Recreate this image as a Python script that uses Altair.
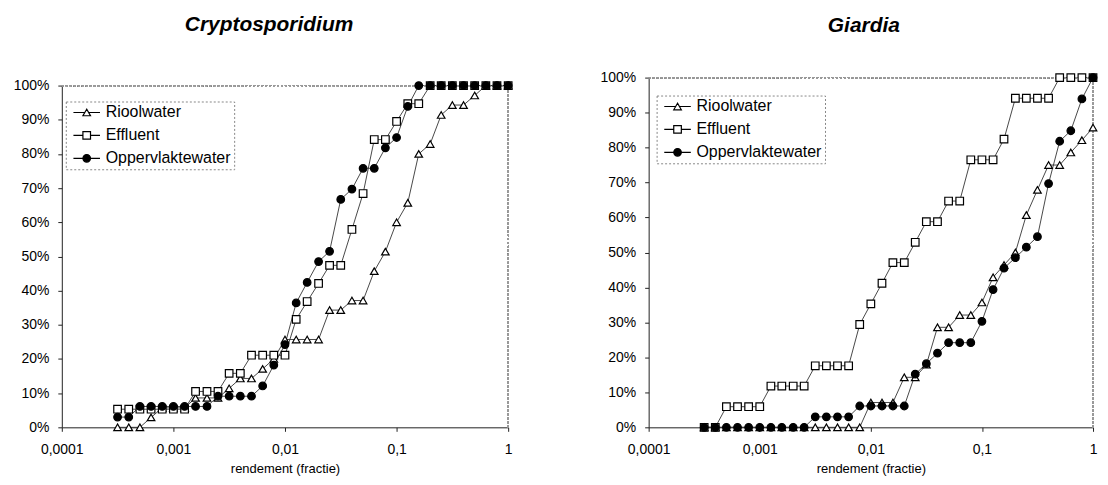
import altair as alt
import pandas as pd

FONT = "Liberation Sans"

# x grid (rendement, fractie) — 0.1 decade steps
RENDEMENT = [0.000316, 0.000398, 0.000501, 0.000631, 0.000794, 0.001, 0.00126, 0.00158,
             0.00200, 0.00251, 0.00316, 0.00398, 0.00501, 0.00631, 0.00794, 0.01, 0.0126,
             0.0158, 0.0200, 0.0251, 0.0316, 0.0398, 0.0501, 0.0631, 0.0794, 0.1, 0.126,
             0.158, 0.200, 0.251, 0.316, 0.398, 0.501, 0.631, 0.794, 1.0]

SERIES = ["Rioolwater", "Effluent", "Oppervlaktewater"]

# Cryptosporidium (cumulative %)
CRYPTO_RIOOL = [0, 0, 0, 2.9, 5.7, 5.7, 5.7, 8.6, 8.6, 8.6, 11.4, 14.3, 14.3, 17.1, 20.0, 25.7,
                25.7, 25.7, 25.7, 34.3, 34.3, 37.1, 37.1, 45.7, 51.4, 60.0, 65.7, 80.0, 82.9,
                91.4, 94.3, 94.3, 97.1, 100, 100, 100]
CRYPTO_EFFLUENT = [5.3, 5.3, 5.3, 5.3, 5.3, 5.3, 5.3, 10.5, 10.5, 10.5, 15.8, 15.8, 21.1, 21.1,
                   21.1, 21.1, 31.6, 36.8, 42.1, 47.4, 47.4, 57.9, 68.4, 84.2, 84.2, 89.5, 94.7,
                   94.7, 100, 100, 100, 100, 100, 100, 100, 100]
CRYPTO_OPPERVLAKTE = [3.0, 3.0, 6.1, 6.1, 6.1, 6.1, 6.1, 6.1, 6.1, 9.1, 9.1, 9.1, 9.1, 12.1, 18.2,
                      24.2, 36.4, 42.4, 48.5, 51.5, 66.7, 69.7, 75.8, 75.8, 81.8, 84.8, 93.9,
                      100, 100, 100, 100, 100, 100, 100, 100, 100]

# Giardia (cumulative %)
GIARDIA_RIOOL = [0, 0, 0, 0, 0, 0, 0, 0, 0, 0, 0, 0, 0, 0, 0, 7.1, 7.1, 7.1, 14.3, 14.3, 17.9,
                 28.6, 28.6, 32.1, 32.1, 35.7, 42.9, 46.4, 50.0, 60.7, 67.9, 75.0, 75.0, 78.6,
                 82.1, 85.7]
GIARDIA_EFFLUENT = [0, 0, 5.9, 5.9, 5.9, 5.9, 11.8, 11.8, 11.8, 11.8, 17.6, 17.6, 17.6, 17.6,
                    29.4, 35.3, 41.2, 47.1, 47.1, 52.9, 58.8, 58.8, 64.7, 64.7, 76.5, 76.5, 76.5,
                    82.4, 94.1, 94.1, 94.1, 94.1, 100, 100, 100, 100]
GIARDIA_OPPERVLAKTE = [0, 0, 0, 0, 0, 0, 0, 0, 0, 0, 3.0, 3.0, 3.0, 3.0, 6.1, 6.1, 6.1, 6.1, 6.1,
                       15.2, 18.2, 21.2, 24.2, 24.2, 24.2, 30.3, 39.4, 45.5, 48.5, 51.5, 54.5,
                       69.7, 81.8, 84.8, 93.9, 100]

X_TICKS = [0.0001, 0.001, 0.01, 0.1, 1]
X_LABELS = ["0,0001", "0,001", "0,01", "0,1", "1"]
Y_TICKS = [0, 0.1, 0.2, 0.3, 0.4, 0.5, 0.6, 0.7, 0.8, 0.9, 1.0]

SHAPES = ["triangle-up", "square", "circle"]
FILLS = ["white", "white", "black"]
STROKES = ["black", "black", "black"]
LEGEND_SHAPES = [
    "M-3.5,0H-0.5M0.5,0H3.5M0,-0.866L-1,0.866L1,0.866Z",
    "M-3.5,0H-1M1,0H3.5M-1,-1H1V1H-1Z",
    "M-3.5,0H-1M1,0H3.5M1,0A1,1,0,1,1,-1,0A1,1,0,1,1,1,0Z",
]


def make_df(series_lists):
    rows = []
    for name, vals in zip(SERIES, series_lists):
        for xv, yv in zip(RENDEMENT, vals):
            rows.append({"reeks": name, "rendement": xv, "aandeel": yv / 100.0})
    return pd.DataFrame(rows)


label_expr = " : ".join(
    [f"datum.value < {t * 1.5} ? '{l}'" for t, l in zip(X_TICKS[:-1], X_LABELS[:-1])]
) + f" : '{X_LABELS[-1]}'"


def panel(df, title, dx, toffset, width, height, ytop, yext, lx, ly):
    base = alt.Chart(df)
    xscale = alt.Scale(type="log", domain=[0.0001, 1])
    yscale = alt.Scale(domain=[0, 1], nice=False, range=[height, ytop])
    xaxis = alt.Axis(values=X_TICKS, labelExpr=label_expr, title="rendement (fractie)",
                     labelPadding=11, titlePadding=6, tickSize=4, grid=False,
                     labelFlush=False, labelOverlap=False)
    yaxis = alt.Axis(values=Y_TICKS, format=".0%", title=None, labelPadding=9,
                     tickSize=4, grid=False, minExtent=yext, maxExtent=yext,
                     labelOverlap=False)
    x = alt.X("rendement:Q", scale=xscale, axis=xaxis)
    y = alt.Y("aandeel:Q", scale=yscale, axis=yaxis)
    lines = base.mark_line(color="#333333", strokeWidth=0.9).encode(
        x=x, y=y, detail="reeks:N", order="rendement:Q")
    frame_top = base.mark_rule(color="#9a9a9a", strokeDash=[2, 2], strokeWidth=1).encode(
        x=alt.datum(X_TICKS[0], type="quantitative", axis=xaxis), x2=alt.datum(X_TICKS[-1]),
        y=alt.datum(1.0, type="quantitative", axis=yaxis))
    frame_right = base.mark_rule(color="#9a9a9a", strokeDash=[2, 2], strokeWidth=1).encode(
        x=alt.datum(X_TICKS[-1], type="quantitative", axis=xaxis),
        y=alt.datum(0.0, type="quantitative", axis=yaxis), y2=alt.datum(1.0))
    pts = base.mark_point(size=58, stroke="black", strokeWidth=1.2, opacity=1).encode(
        x=x, y=y,
        shape=alt.Shape("reeks:N", scale=alt.Scale(domain=SERIES, range=SHAPES), legend=None),
        fill=alt.Fill("reeks:N", scale=alt.Scale(domain=SERIES, range=FILLS), legend=None))
    leg = alt.Legend(orient="none", legendX=lx, legendY=ly, title=None, labelFont=FONT,
                     labelFontSize=16, labelColor="black", symbolSize=58, symbolOffset=10,
                     labelOffset=11, rowPadding=7, padding=3, strokeColor="#888888",
                     fillColor="white", symbolStrokeColor="black", symbolStrokeWidth=1.2,
                     symbolOpacity=1)
    legend_layer = base.transform_filter("datum.reeks == 'geen'").mark_point(
        size=58, strokeWidth=1.2).encode(
        x=x, y=y,
        shape=alt.Shape("reeks:N", scale=alt.Scale(domain=SERIES, range=LEGEND_SHAPES), legend=leg),
        fill=alt.Fill("reeks:N", scale=alt.Scale(domain=SERIES, range=FILLS), legend=leg),
        stroke=alt.Stroke("reeks:N", scale=alt.Scale(domain=SERIES, range=STROKES), legend=leg))
    return alt.layer(lines, frame_top, frame_right, pts, legend_layer).resolve_scale(
        shape="independent", fill="independent", stroke="independent").properties(
        width=width, height=height,
        title=alt.TitleParams(title, font=FONT, fontSize=21, fontWeight="bold",
                              fontStyle="italic", dx=dx, offset=toffset, frame="group",
                              anchor="middle", color="black"))


left = panel(make_df([CRYPTO_RIOOL, CRYPTO_EFFLUENT, CRYPTO_OPPERVLAKTE]),
             "Cryptosporidium", -16, 43, 448, 351, 8, 54, 4, 24)
right = panel(make_df([GIARDIA_RIOOL, GIARDIA_EFFLUENT, GIARDIA_OPPERVLAKTE]),
              "Giardia", -7, 35, 446, 351, 0, 49, 8, 18)

chart = alt.hconcat(left, right, spacing=85).properties(
    background="white", padding={"left": 0, "top": 5, "right": 0, "bottom": 0}
).configure_view(
    strokeWidth=0
).configure_axis(
    domainColor="#222222", domainWidth=1, tickColor="#222222", labelFont=FONT,
    labelFontSize=14, labelColor="black", titleFont=FONT, titleFontSize=13,
    titleFontWeight="normal", titleColor="black"
).configure_legend(
    strokeDash=[2, 2], strokeWidth=1
)

chart.save("out.html", embed_options={"renderer": "svg", "actions": False})
